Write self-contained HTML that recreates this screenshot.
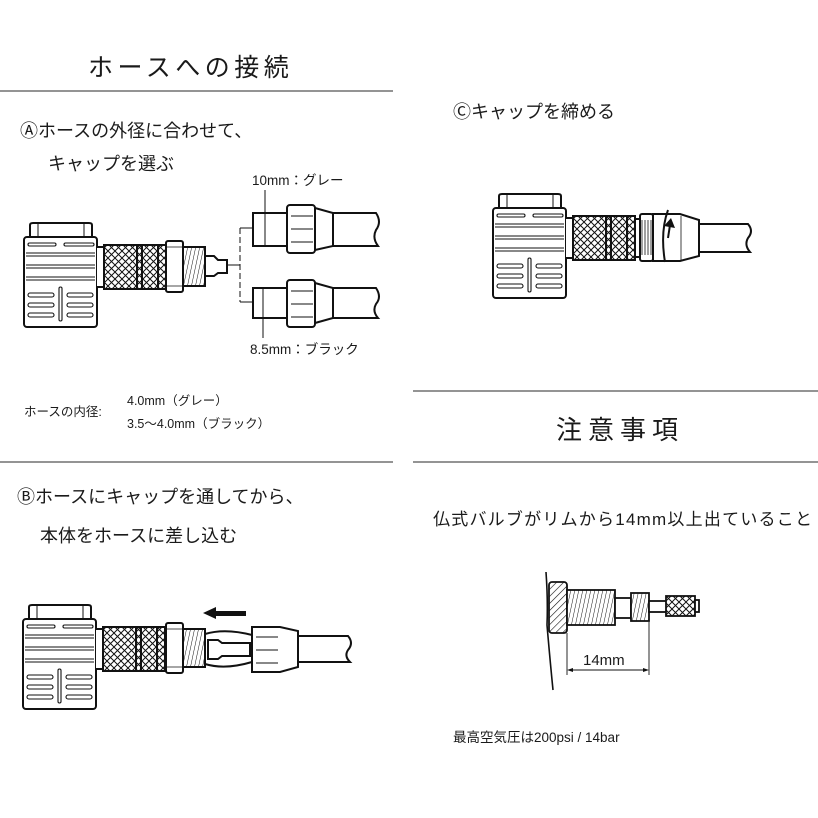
<!DOCTYPE html>
<html><head><meta charset="utf-8"><style>
html,body{margin:0;padding:0;background:#fff}
svg{display:block}
text{font-family:"Liberation Sans","Noto Sans CJK JP",sans-serif;fill:#1a1a1a}
</style></head><body>
<svg width="818" height="818" viewBox="0 0 818 818" xmlns="http://www.w3.org/2000/svg">
<defs>
<pattern id="kn" width="7" height="7" patternUnits="userSpaceOnUse">
<rect width="7" height="7" fill="#fff"/>
<path d="M0 0L7 7M7 0L0 7" stroke="#111" stroke-width="1"/>
</pattern>
<pattern id="hat" width="5" height="5" patternUnits="userSpaceOnUse" patternTransform="rotate(45)">
<rect width="5" height="5" fill="#fff"/><line x1="0" y1="0" x2="0" y2="5" stroke="#111" stroke-width="1.2"/>
</pattern>
<pattern id="thr" width="4" height="10" patternUnits="userSpaceOnUse" patternTransform="skewX(-12)">
<rect width="4" height="10" fill="#fff"/><line x1="0" y1="0" x2="0" y2="10" stroke="#111" stroke-width="1"/>
</pattern>
<g id="head" fill="#fff" stroke="#111" stroke-width="2">
<path d="M6 0 V-12 Q6 -14 9 -14 H65 Q68 -14 68 -12 V0" />
<line x1="14" y1="-14" x2="14" y2="0" stroke-width="1"/><line x1="60" y1="-14" x2="60" y2="0" stroke-width="1"/>
<rect x="0" y="0" width="73" height="90" rx="3"/>
<g stroke-width="1.1" fill="none">
<rect x="4" y="6" width="28" height="3" rx="1.5"/><rect x="40" y="6" width="30" height="3" rx="1.5"/>
<line x1="2" y1="16" x2="71" y2="16"/><line x1="2" y1="19" x2="71" y2="19"/>
<line x1="2" y1="28" x2="71" y2="28"/><line x1="2" y1="31" x2="71" y2="31"/>
<line x1="2" y1="40" x2="71" y2="40"/><line x1="2" y1="43" x2="71" y2="43"/>
<rect x="35" y="50" width="3" height="34" rx="1.5"/>
<rect x="4" y="56" width="26" height="4" rx="2"/><rect x="43" y="56" width="26" height="4" rx="2"/>
<rect x="4" y="66" width="26" height="4" rx="2"/><rect x="43" y="66" width="26" height="4" rx="2"/>
<rect x="4" y="76" width="26" height="4" rx="2"/><rect x="43" y="76" width="26" height="4" rx="2"/>
</g>
<path d="M73 10 H80 V50 H73" />
<rect x="80" y="8" width="62" height="44" fill="url(#kn)"/>
<line x1="113" y1="8" x2="113" y2="52"/><line x1="118" y1="8" x2="118" y2="52"/>
<line x1="134" y1="8" x2="134" y2="52"/>
</g>
</defs>

<text x="88" y="76" font-size="25" letter-spacing="4.5">ホースへの接続</text>
<line x1="0" y1="91" x2="393" y2="91" stroke="#555" stroke-width="1.2"/>
<text x="20" y="137" font-size="18">Ⓐホースの外径に合わせて、</text>
<text x="48" y="170" font-size="18">キャップを選ぶ</text>
<text x="252" y="185" font-size="13.5">10mm：グレー</text>
<text x="250" y="354" font-size="13.5">8.5mm：ブラック</text>
<text x="24" y="416" font-size="12.5">ホースの内径:</text>
<text x="127" y="405" font-size="12.5">4.0mm（グレー）</text>
<text x="127" y="428" font-size="12.5">3.5〜4.0mm（ブラック）</text>
<line x1="0" y1="462" x2="393" y2="462" stroke="#555" stroke-width="1.2"/>
<text x="17" y="503" font-size="18">Ⓑホースにキャップを通してから、</text>
<text x="40" y="542" font-size="18">本体をホースに差し込む</text>

<text x="453" y="118" font-size="18">Ⓒキャップを締める</text>
<line x1="413" y1="391" x2="818" y2="391" stroke="#555" stroke-width="1.2"/>
<text x="556" y="439" font-size="26" letter-spacing="6">注意事項</text>
<line x1="413" y1="462" x2="818" y2="462" stroke="#555" stroke-width="1.2"/>
<text x="433" y="525" font-size="17" textLength="379">仏式バルブがリムから14mm以上出ていること</text>
<text x="453" y="742" font-size="13.5">最高空気圧は200psi / 14bar</text>

<use href="#head" x="24" y="237"/>
<g fill="#fff" stroke="#111" stroke-width="2">
<rect x="166" y="241" width="17" height="51" rx="2"/>
<g stroke-width="0.8"><line x1="166" y1="247" x2="183" y2="247"/><line x1="166" y1="286" x2="183" y2="286"/></g>
<rect x="183" y="247" width="22" height="39" fill="url(#thr)"/>
<path d="M205 256 H214 L218 260 H227 V273 H218 L214 276 H205 Z"/>
<rect x="253" y="213" width="34" height="33"/>
<path d="M333 213 H376 Q382 222 376 230 Q372 238 378 246 H333"/>
<path d="M315 208 L333 213 V246 L315 250 Z"/>
<rect x="287" y="205" width="28" height="48" rx="3"/>
<g stroke-width="0.9"><line x1="291" y1="216" x2="313" y2="216"/><line x1="291" y1="229" x2="313" y2="229"/><line x1="291" y1="242" x2="313" y2="242"/></g>
<rect x="253" y="288" width="34" height="30"/>
<path d="M333 288 H376 Q382 297 376 304 Q372 311 378 318 H333"/>
<path d="M315 283 L333 288 V318 L315 323 Z"/>
<rect x="287" y="280" width="28" height="47" rx="3"/>
<g stroke-width="0.9"><line x1="291" y1="291" x2="313" y2="291"/><line x1="291" y1="304" x2="313" y2="304"/><line x1="291" y1="317" x2="313" y2="317"/></g>
</g>
<g stroke="#111" stroke-width="1" fill="none">
<line x1="240" y1="228" x2="240" y2="302" stroke-dasharray="6 3"/>
<line x1="240" y1="228" x2="252" y2="228"/><line x1="240" y1="302" x2="252" y2="302"/>
<line x1="227" y1="265" x2="240" y2="265"/>
<line x1="265" y1="190" x2="265" y2="246"/>
<line x1="263" y1="288" x2="263" y2="338"/>
</g>

<use href="#head" x="493" y="208"/>
<g fill="#fff" stroke="#111" stroke-width="2">
<rect x="635" y="219" width="5" height="38"/>
<rect x="640" y="214" width="13" height="47" rx="2"/>
<g stroke-width="0.8"><line x1="642" y1="220" x2="642" y2="255"/><line x1="645" y1="220" x2="645" y2="255"/><line x1="648" y1="220" x2="648" y2="255"/><line x1="651" y1="220" x2="651" y2="255"/></g>
<path d="M700 224 H748 Q754 231 748 238 Q744 245 750 252 H700"/>
<path d="M653 214 H680 L699 220 V256 L680 261 H653 Z"/>
<line x1="681" y1="216" x2="681" y2="260" stroke-width="0.8"/>
</g>
<g stroke="#111" stroke-width="2" fill="none">
<path d="M668 210 Q660 232 665 262"/>
<path d="M668 238 L670 225"/>
</g>
<path d="M664 226 L671 218 L675 228 Z" fill="#111"/>

<use href="#head" x="23" y="619"/>
<g fill="#fff" stroke="#111" stroke-width="2">
<rect x="166" y="623" width="17" height="50" rx="2"/>
<g stroke-width="0.8"><line x1="166" y1="629" x2="183" y2="629"/><line x1="166" y1="667" x2="183" y2="667"/></g>
<rect x="183" y="629" width="22" height="38" fill="url(#thr)"/>
<path d="M205 634 Q225 628 252 635 V662 Q225 670 205 664 Z"/>
<path d="M208 640 H218 L222 643 H250 V656 H222 L218 659 H208 Z"/>
<path d="M298 636 H348 Q354 643 348 650 Q344 656 350 662 H298"/>
<path d="M252 627 H280 L298 631 V667 L280 672 H252 Z"/>
<g stroke-width="0.9"><line x1="256" y1="637" x2="278" y2="637"/><line x1="256" y1="650" x2="278" y2="650"/><line x1="256" y1="663" x2="278" y2="663"/></g>
</g>
<path d="M203 613 L216 607 V611 H246 V616 H216 V619 Z" fill="#111"/>

<path d="M546 572 Q548 600 547 625 Q550 660 553 690" stroke="#111" stroke-width="1.6" fill="none"/>
<g fill="#fff" stroke="#111" stroke-width="1.8">
<rect x="549" y="582" width="18" height="51" rx="3" fill="url(#hat)"/>
<rect x="567" y="590" width="48" height="35" fill="url(#thr)"/>
<rect x="615" y="598" width="16" height="20"/>
<rect x="631" y="593" width="18" height="28" fill="url(#thr)"/>
<rect x="649" y="601" width="18" height="11"/>
<rect x="666" y="596" width="29" height="20" fill="url(#kn)"/>
<rect x="695" y="600" width="4" height="12"/>
</g>
<g stroke="#111" stroke-width="0.9">
<line x1="567" y1="633" x2="567" y2="675"/><line x1="649" y1="622" x2="649" y2="675"/>
<line x1="569" y1="670" x2="647" y2="670"/>
</g>
<path d="M567 670 L573 668 V672 Z M649 670 L643 668 V672 Z" fill="#111"/>
<text x="583" y="665" font-size="15">14mm</text>
</svg>
</body></html>
